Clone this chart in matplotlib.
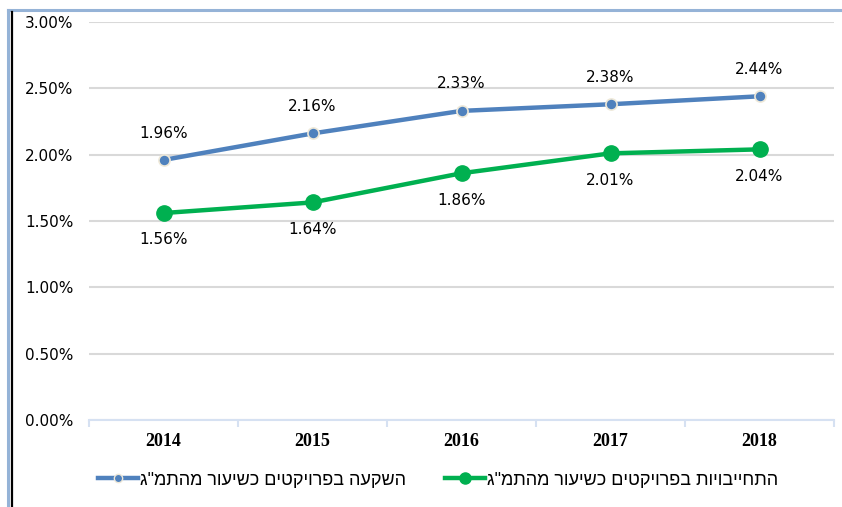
import numpy as np
import matplotlib.pyplot as plt
from matplotlib.lines import Line2D

# data
years = ['2014', '2015', '2016', '2017', '2018']
investment = [1.96, 2.16, 2.33, 2.38, 2.44]   # blue series
commitments = [1.56, 1.64, 1.86, 2.01, 2.04]  # green series
yticks = [0.0, 0.5, 1.0, 1.5, 2.0, 2.5, 3.0]

label_inv = 'השקעה בפרויקטים כשיעור מהתמ"ג'
label_com = 'התחייבויות בפרויקטים כשיעור מהתמ"ג'

blue = '#4F81BD'
green = '#00B050'

fig = plt.figure(figsize=(8.42, 5.07), dpi=100)
ax = fig.add_axes([89 / 842, 1 - 420 / 507, 745 / 842, 398 / 507])

x = np.arange(len(years))

ax.plot(x, investment, color=blue, lw=3.2, marker='o', ms=8,
        mfc=blue, mec='#EEE8D8', mew=1.2, solid_capstyle='round', zorder=3)
ax.plot(x, commitments, color=green, lw=3.2, marker='o', ms=11,
        mfc=green, mec=green, solid_capstyle='round', zorder=3)

for xi, v in zip(x, investment):
    ax.annotate(f'{v:.2f}%', (xi, v), xytext=(0, 14), textcoords='offset points',
                ha='center', va='bottom', fontsize=11, family='DejaVu Sans')
for xi, v in zip(x, commitments):
    ax.annotate(f'{v:.2f}%', (xi, v), xytext=(0, -14), textcoords='offset points',
                ha='center', va='top', fontsize=11, family='DejaVu Sans')

ax.set_xlim(-0.5, len(years) - 0.5)
ax.set_ylim(0, 3.0)
ax.set_yticks(yticks)
ax.set_yticklabels([f'{t:.2f}%' for t in yticks], fontsize=11, family='DejaVu Sans')
ax.set_xticks(x)
ax.set_xticklabels(years, fontsize=13, family='Liberation Serif', fontweight='bold')
ax.set_xticks(np.arange(-0.5, len(years)), minor=True)
ax.tick_params(axis='x', which='major', length=0, pad=9)
ax.tick_params(axis='x', which='minor', length=5, color='#D6E1F2', width=1.5)
ax.tick_params(axis='y', length=0, pad=11)

ax.grid(axis='y', color='#D9D9D9', lw=1.5)
ax.set_axisbelow(True)
for side in ['top', 'right', 'left']:
    ax.spines[side].set_visible(False)
ax.spines['bottom'].set_color('#D6E1F2')
ax.spines['bottom'].set_linewidth(1.5)

# frame lines around the picture
fig.add_artist(Line2D([8 / 842, 1], [1 - 10 / 507] * 2, color='#95B3D7', lw=2.2))
fig.add_artist(Line2D([8 / 842] * 2, [0, 1 - 10 / 507], color='#95B3D7', lw=2.2))
fig.add_artist(Line2D([11.5 / 842] * 2, [0, 1 - 12 / 507], color='black', lw=1.6))

# legend (Hebrew reversed for right-to-left display)
handles = [
    Line2D([], [], color=blue, lw=3.2, marker='o', ms=6, mfc=blue, mec='#EEE8D8'),
    Line2D([], [], color=green, lw=3.2, marker='o', ms=8, mfc=green, mec=green),
]
fig.legend(handles, [label_inv[::-1], label_com[::-1]],
           loc='center', bbox_to_anchor=(438 / 842, 1 - 480 / 507), ncol=2,
           frameon=False, handlelength=2.2, handletextpad=0.1, columnspacing=2.2,
           prop={'family': ['Liberation Sans', 'DejaVu Sans'], 'size': 13})

fig.savefig('out.png', dpi=100)
